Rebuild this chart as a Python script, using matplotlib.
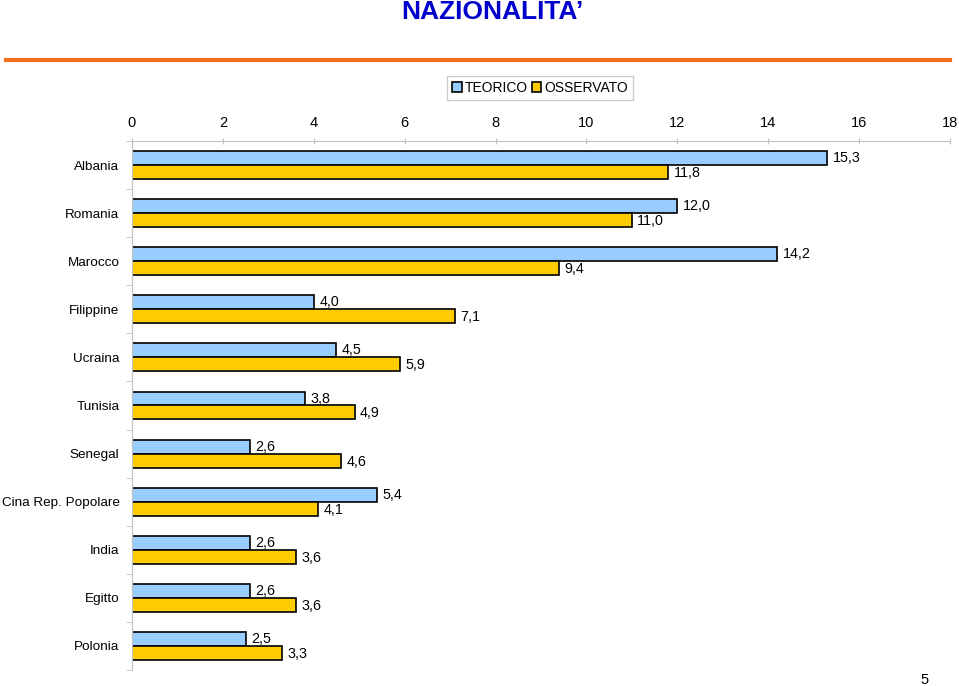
import matplotlib.pyplot as plt
import numpy as np
from matplotlib.lines import Line2D

paesi = ['Albania', 'Romania', 'Marocco', 'Filippine', 'Ucraina', 'Tunisia',
         'Senegal', 'Cina Rep. Popolare', 'India', 'Egitto', 'Polonia']
teorico = [15.3, 12.0, 14.2, 4.0, 4.5, 3.8, 2.6, 5.4, 2.6, 2.6, 2.5]
osservato = [11.8, 11.0, 9.4, 7.1, 5.9, 4.9, 4.6, 4.1, 3.6, 3.6, 3.3]
xticks = [0, 2, 4, 6, 8, 10, 12, 14, 16, 18]

plt.rcParams['font.family'] = ['Liberation Sans', 'DejaVu Sans']

fig = plt.figure(figsize=(9.59, 6.86), dpi=100)
ax = fig.add_axes([0.1376, 0.0233, 0.853, 0.7712])

y = np.arange(len(paesi))
h = 0.29
ax.barh(y - h / 2, teorico, height=h, color='#99CCFF', edgecolor='black',
        linewidth=1.2, label='TEORICO')
ax.barh(y + h / 2, osservato, height=h, color='#FFCC00', edgecolor='black',
        linewidth=1.2, label='OSSERVATO')

for i in range(len(paesi)):
    ax.text(teorico[i] + 0.12, y[i] - h / 2, f'{teorico[i]:.1f}'.replace('.', ','),
            va='center', ha='left', fontsize=10.3)
    ax.text(osservato[i] + 0.12, y[i] + h / 2 + 0.02, f'{osservato[i]:.1f}'.replace('.', ','),
            va='center', ha='left', fontsize=10.3)

ax.set_xlim(0, 18)
ax.set_ylim(len(paesi) - 0.5, -0.5)
ax.set_xticks(xticks)
ax.xaxis.tick_top()
ax.tick_params(axis='x', length=4, color='#C0C0C0', labelsize=10.5, pad=6,
               direction='inout')
ax.set_yticks(y)
ax.set_yticklabels(paesi, fontsize=9.7)
ax.set_yticks(np.arange(len(paesi) + 1) - 0.5, minor=True)
ax.tick_params(axis='y', which='major', length=0, pad=9)
ax.tick_params(axis='y', which='minor', length=4, color='#C0C0C0')
for s in ['right', 'bottom']:
    ax.spines[s].set_visible(False)
ax.spines['top'].set_color('#C0C0C0')
ax.spines['left'].set_color('#C0C0C0')

ax.legend(loc='center', bbox_to_anchor=(540 / 959, 1 - 88 / 686),
          bbox_transform=fig.transFigure, ncol=2, fontsize=10, frameon=True,
          fancybox=False, edgecolor='#C0C0C0', handlelength=0.7, handleheight=0.7,
          handletextpad=0.2, columnspacing=0.3, borderpad=0.35, borderaxespad=0)

fig.text(492 / 959, 1 - 12 / 686, 'NAZIONALITA\u2019', ha='center', va='center',
         fontsize=19, fontweight='bold', color='#0000CC',
         family=['Liberation Sans Narrow', 'Liberation Sans', 'DejaVu Sans'])
fig.add_artist(Line2D([6 / 959, 950 / 959], [1 - 60 / 686, 1 - 60 / 686],
                      color='#F07020', linewidth=3, transform=fig.transFigure))
fig.text(925 / 959, 1 - 680 / 686, '5', ha='center', va='center', fontsize=10.5)

fig.savefig('out.png', dpi=100)
